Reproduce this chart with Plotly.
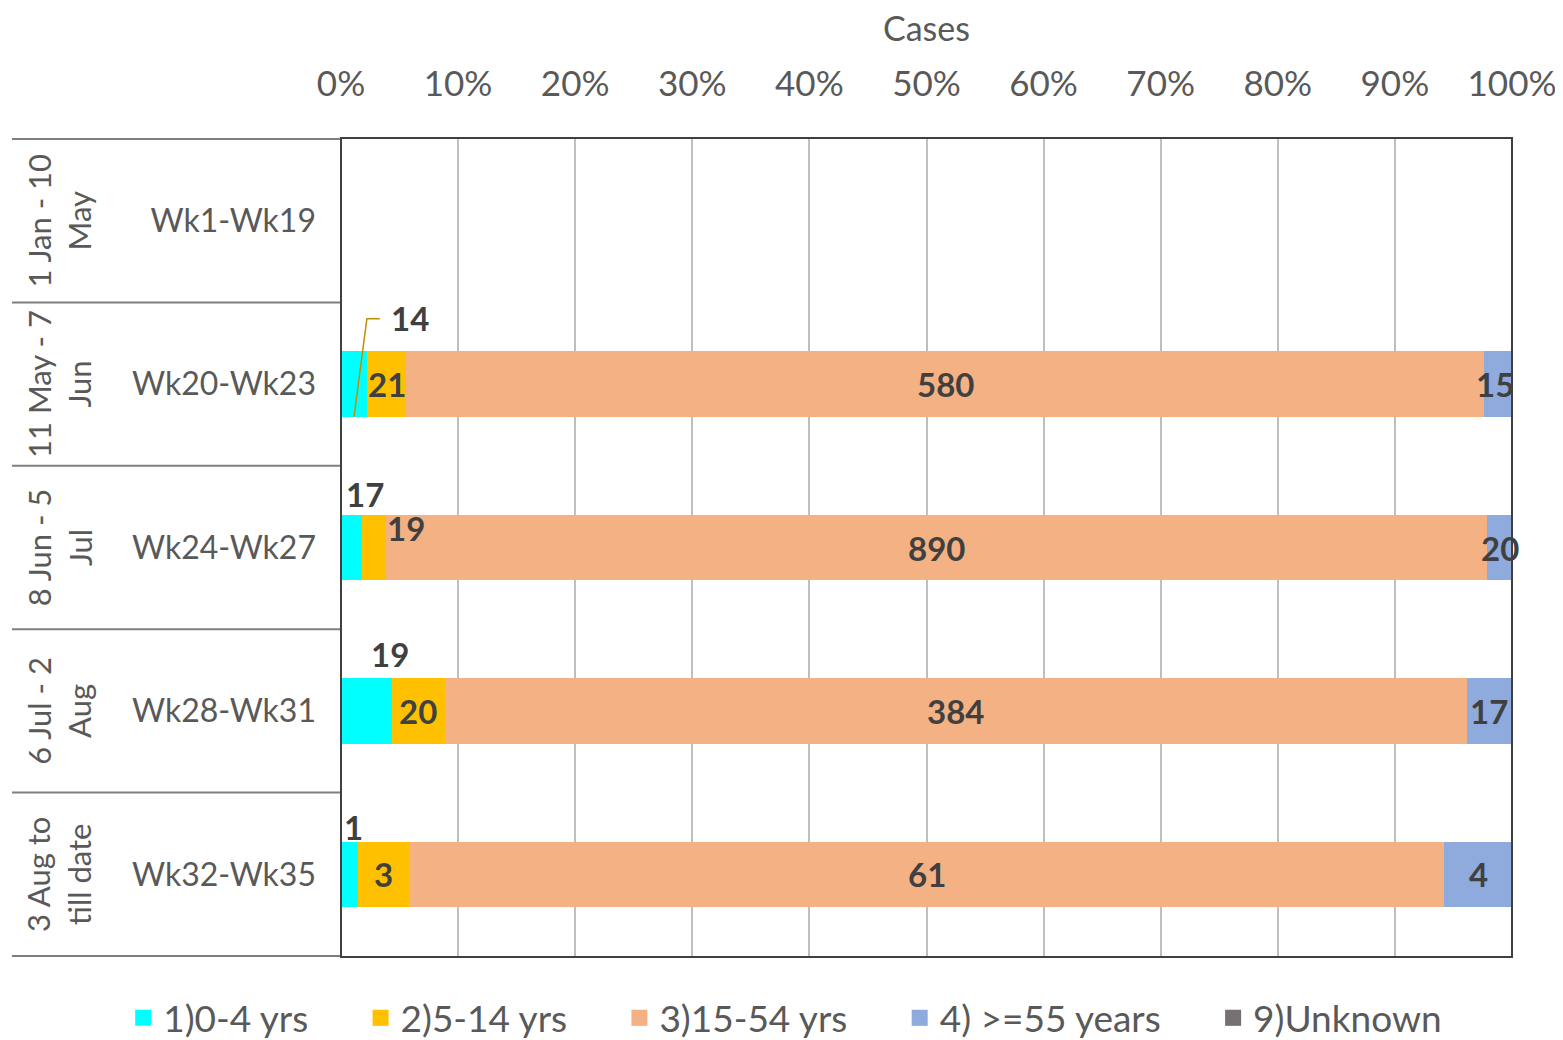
import plotly.graph_objects as go

# ---------------- data ----------------
categories = ["Wk1-Wk19", "Wk20-Wk23", "Wk24-Wk27", "Wk28-Wk31", "Wk32-Wk35"]
periods = ["1 Jan - 10<br>May", "11 May - 7<br>Jun", "8 Jun - 5<br>Jul",
           "6 Jul - 2<br>Aug", "3 Aug to<br>till date"]
series_names = ["1)0-4 yrs", "2)5-14 yrs", "3)15-54 yrs", "4) >=55 years", "9)Unknown"]
age_0_4 = [0, 14, 17, 19, 1]
age_5_14 = [0, 21, 19, 20, 3]
age_15_54 = [0, 580, 890, 384, 61]
age_55_plus = [0, 15, 20, 17, 4]
unknown = [0, 0, 0, 0, 0]
x_ticks = [0, 10, 20, 30, 40, 50, 60, 70, 80, 90, 100]
x_tick_labels = [f"{t}%" for t in x_ticks]

series_values = [age_0_4, age_5_14, age_15_54, age_55_plus, unknown]
colors = ["#00FFFF", "#FFC000", "#F4B183", "#8FAADC", "#767171"]

totals = [sum(s[j] for s in series_values) for j in range(len(categories))]
pcts = [[(v / t * 100 if t else 0) for v, t in zip(s, totals)] for s in series_values]

FONT = "Lato"
PAD = "\u00a0" * 5
fig = go.Figure()
for k, (name, pc, col) in enumerate(zip(series_names, pcts, colors)):
    fig.add_trace(go.Bar(y=categories, x=pc, orientation="h", name=name,
                         marker=dict(color=col, line=dict(width=0)),
                         showlegend=False, hoverinfo="skip"))
    fig.add_trace(go.Scatter(x=[None], y=[None], mode="markers",
                             name=name + (PAD if k < len(series_names) - 1 else ""),
                             marker=dict(symbol="square", size=22, color=col)))

# ---------------- data labels ----------------
offsets = {
    (0, 1): (56, 66),
    (0, 2): (13, 54),
    (1, 2): (32, 20),
    (0, 3): (24, 57),
    (0, 4): (4, 47),
    (3, 1): (-3, 0),
}
annotations = []
for j in range(len(categories)):
    cum = 0
    for i, s in enumerate(series_values):
        p = pcts[i][j]
        if s[j] > 0:
            xs, ys = offsets.get((i, j), (0, 0))
            annotations.append(dict(x=cum + p / 2, y=categories[j], xref="x", yref="y",
                                    text=f"<b>{s[j]}</b>", showarrow=False,
                                    xanchor="center", yanchor="middle",
                                    xshift=xs, yshift=ys,
                                    font=dict(family=FONT, size=33, color="#404040")))
        cum += p

for j, per in enumerate(periods):
    annotations.append(dict(x=-0.241, y=j, xref="paper", yref="y", text=per,
                            textangle=-90, showarrow=False, align="center",
                            xanchor="center", yanchor="middle",
                            font=dict(family=FONT, size=31, color="#595959")))

annotations.append(dict(x=0.5, y=1, xref="paper", yref="paper", yshift=111,
                        text="Cases", showarrow=False, xanchor="center", yanchor="middle",
                        font=dict(family=FONT, size=34, color="#595959")))
fig.update_layout(annotations=annotations)

# ---------------- shapes ----------------
shapes = []
for k in range(len(categories) + 1):
    shapes.append(dict(type="line", xref="paper", yref="y", x0=-0.281, x1=0,
                       y0=k - 0.5, y1=k - 0.5, line=dict(color="#7F7F7F", width=2)))
shapes.append(dict(type="rect", xref="paper", yref="paper", x0=0, x1=1, y0=0, y1=1,
                   line=dict(color="#404040", width=2)))
c0 = pcts[0][1] / 2
shapes.append(dict(type="path", xref="x", yref="y",
                   path=f"M {c0+2.2},{1-0.4} L {c0+1.1},{1-0.4} L {c0},{1+0.2}",
                   line=dict(color="#BF9000", width=1.5)))
fig.update_layout(shapes=shapes)

fig.update_layout(
    width=1555, height=1032,
    margin=dict(l=333, r=51, t=130, b=83, autoexpand=False),
    paper_bgcolor="white", plot_bgcolor="white",
    barmode="stack", bargap=0.6,
    xaxis=dict(side="top", range=[0, 100], tickvals=x_ticks, ticktext=x_tick_labels,
               showgrid=True, gridcolor="#BFBFBF", gridwidth=2, zeroline=False,
               tickfont=dict(family=FONT, size=35, color="#595959"),
               ticks="", ticklabelstandoff=34, fixedrange=True, automargin=False),
    yaxis=dict(categoryorder="array", categoryarray=categories, autorange="reversed",
               showgrid=False, zeroline=False, ticks="",
               tickfont=dict(family=FONT, size=32, color="#595959"),
               ticklabelstandoff=24, fixedrange=True, automargin=False),
    legend=dict(orientation="h", xref="paper", yref="paper",
                x=-0.186, xanchor="left", y=-0.037, yanchor="top",
                font=dict(family=FONT, size=37, color="#595959"),
                itemwidth=30, traceorder="normal"),
    showlegend=True,
)

fig.write_html("out.html")
